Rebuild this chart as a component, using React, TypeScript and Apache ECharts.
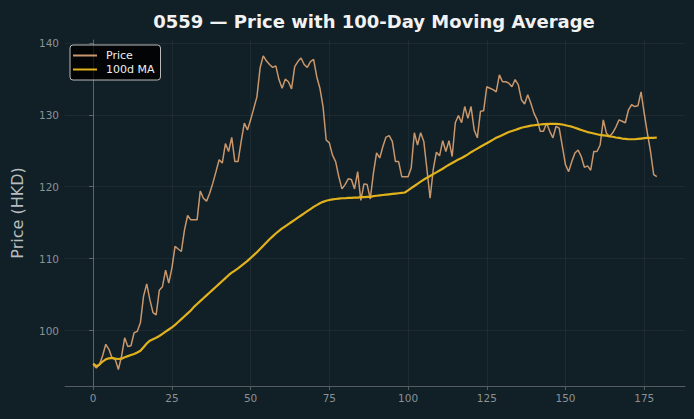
import React, { useEffect, useRef } from "react";
import * as echarts from "echarts";

// Daily closing price of 0559 (HKD), trading days 0..179
const price: number[] = [
  95.3, 94.8, 95.3, 96.5, 98.1, 97.4, 96.2, 96.0, 94.6, 96.4,
  99.0, 97.8, 97.9, 99.7, 99.9, 101.1, 104.8, 106.5, 104.3, 102.5,
  102.2, 105.6, 106.1, 108.4, 106.6, 108.7, 111.7, 111.35, 111.0, 114.0,
  116.0, 115.4, 115.4, 115.4, 119.4, 118.4, 118.0, 119.1, 120.5, 122.1,
  123.75, 123.3, 126.0, 124.9, 126.85, 123.5, 123.5, 126.3, 128.85, 127.9,
  129.3, 130.9, 132.5, 136.5, 138.2, 137.5, 137.0, 136.6, 136.8, 134.9,
  133.7, 134.95, 134.6, 133.6, 136.7, 137.4, 137.9, 137.0, 136.6, 137.4,
  137.7, 135.3, 133.7, 131.15, 126.5, 126.1, 124.4, 123.5, 121.4, 119.7,
  120.3, 121.1, 121.0, 119.7, 122.1, 118.1, 120.4, 120.3, 118.3, 121.9,
  124.7, 124.0, 125.6, 126.9, 127.1, 126.3, 123.5, 123.5, 121.4, 121.4,
  121.4, 122.6, 127.5, 125.8, 127.5, 126.3, 122.4, 118.4, 122.4, 124.8,
  124.3, 126.4, 124.9, 126.4, 124.2, 128.9, 129.9, 128.9, 131.15, 129.5,
  131.15, 127.9, 126.8, 130.5, 130.55, 133.9, 133.7, 133.5, 133.2, 135.55,
  134.6, 134.6, 134.4, 133.9, 134.9, 134.2, 132.1, 131.5, 132.8, 131.6,
  130.2, 129.3, 127.7, 127.7, 128.85, 127.7, 126.8, 128.4, 128.15, 125.6,
  123.05, 122.1, 123.5, 124.7, 125.1, 124.2, 122.7, 122.9, 122.3, 124.9,
  124.9, 125.8, 129.3, 127.45, 127.0, 127.5, 128.3, 129.3, 129.1, 128.9,
  130.7, 131.4, 131.15, 131.25, 133.2, 130.2, 127.45, 124.9, 121.7, 121.4,
];

// 100-day moving average of the close
const ma100: number[] = [
  95.4, 95.05, 95.3, 95.7, 96.0, 96.15, 96.2, 96.1, 96.05, 96.1,
  96.3, 96.45, 96.6, 96.75, 96.95, 97.2, 97.7, 98.2, 98.6, 98.8,
  99.0, 99.25, 99.55, 99.85, 100.15, 100.45, 100.8, 101.2, 101.6, 102.0,
  102.4, 102.8, 103.3, 103.7, 104.1, 104.5, 104.9, 105.3, 105.7, 106.1,
  106.5, 106.9, 107.3, 107.7, 108.05, 108.35, 108.65, 109.0, 109.35, 109.7,
  110.1, 110.5, 110.9, 111.35, 111.8, 112.25, 112.7, 113.1, 113.5, 113.85,
  114.2, 114.5, 114.8, 115.1, 115.4, 115.7, 116.0, 116.3, 116.6, 116.9,
  117.2, 117.45, 117.7, 117.9, 118.05, 118.15, 118.25, 118.3, 118.35, 118.4,
  118.4, 118.45, 118.45, 118.5, 118.5, 118.55, 118.55, 118.6, 118.6, 118.7,
  118.75, 118.8, 118.85, 118.9, 118.95, 119.0, 119.05, 119.1, 119.15, 119.2,
  119.5, 119.8, 120.1, 120.4, 120.7, 121.0, 121.25, 121.5, 121.75, 122.0,
  122.25, 122.5, 122.8, 123.05, 123.3, 123.55, 123.8, 124.0, 124.25, 124.5,
  124.8, 125.05, 125.3, 125.55, 125.8, 126.05, 126.3, 126.55, 126.8, 127.0,
  127.2, 127.4, 127.6, 127.75, 127.9, 128.05, 128.2, 128.3, 128.4, 128.5,
  128.55, 128.6, 128.65, 128.7, 128.7, 128.75, 128.75, 128.75, 128.7, 128.65,
  128.55, 128.45, 128.35, 128.2, 128.05, 127.9, 127.75, 127.6, 127.5, 127.4,
  127.3, 127.2, 127.15, 127.1, 127.0, 126.95, 126.85, 126.8, 126.7, 126.65,
  126.6, 126.6, 126.6, 126.65, 126.7, 126.75, 126.8, 126.8, 126.8, 126.85,
];

const xTicks: number[] = [0, 25, 50, 75, 100, 125, 150, 175];
const yTicks: number[] = [100, 110, 120, 130, 140];

const BG = "#111f26";
const FONT = "DejaVu Sans, sans-serif";
const PRICE_COLOR = "#c9976b";
const MA_COLOR = "#e2b21c";

export default function App() {
  const ref = useRef<HTMLDivElement>(null);

  useEffect(() => {
    if (!ref.current) return;
    const chart = echarts.init(ref.current, undefined, { renderer: "svg" });

    const priceData = price.map((v, i) => [i, v]);
    const maData = ma100.map((v, i) => [i, v]);
    const gridColor = "rgba(255,255,255,0.05)";

    chart.setOption({
      animation: false,
      backgroundColor: BG,
      textStyle: { fontFamily: FONT },
      title: {
        text: "0559 — Price with 100-Day Moving Average",
        left: 369,
        textAlign: "center",
        top: 7,
        textStyle: { color: "#f2f2f2", fontSize: 18, fontWeight: "bold", fontFamily: FONT },
      },
      legend: {
        left: 70,
        top: 45,
        orient: "vertical",
        backgroundColor: "rgba(0,0,0,0.85)",
        borderColor: "#bbbbbb",
        borderWidth: 1,
        borderRadius: 3,
        padding: [5, 6, 5, 3],
        itemGap: 3,
        itemWidth: 24,
        itemHeight: 2,
        icon: "rect",
        textStyle: { color: "#eeeeee", fontSize: 11, fontFamily: FONT, padding: [0, 0, 0, 4] },
        data: [
          { name: "Price", itemStyle: { color: PRICE_COLOR } },
          { name: "100d MA", itemStyle: { color: MA_COLOR } },
        ],
      },
      grid: { left: 65, right: 9, top: 40, bottom: 33 },
      xAxis: {
        type: "value",
        min: -8.95,
        max: 187.95,
        axisLine: { show: true, lineStyle: { color: "#555d60" } },
        axisTick: { show: true, customValues: xTicks, length: 4, lineStyle: { color: "#555d60" } },
        axisLabel: { customValues: xTicks, color: "#8a9296", fontSize: 10.5, margin: 6, fontFamily: FONT },
        splitLine: { show: false },
      },
      yAxis: {
        type: "value",
        min: 92.3,
        max: 140.4,
        name: "Price (HKD)",
        nameLocation: "middle",
        nameGap: 40,
        nameTextStyle: { color: "#b8bdbf", fontSize: 16, fontFamily: FONT },
        axisLine: { show: true, lineStyle: { color: "#555d60" } },
        axisTick: { show: true, customValues: yTicks, length: 4, lineStyle: { color: "#555d60" } },
        axisLabel: { customValues: yTicks, color: "#8a9296", fontSize: 10.5, margin: 6, fontFamily: FONT },
        splitLine: { show: false },
      },
      series: [
        {
          name: "Price",
          type: "line",
          data: priceData,
          symbol: "none",
          lineStyle: { color: PRICE_COLOR, width: 1.5 },
          itemStyle: { color: PRICE_COLOR },
          z: 3,
          markLine: {
            silent: true,
            symbol: "none",
            label: { show: false },
            lineStyle: { color: gridColor, width: 1, type: "solid" },
            data: [
              ...xTicks.map((v) => ({ xAxis: v })),
              ...yTicks.map((v) => ({ yAxis: v })),
            ],
          },
        },
        {
          name: "100d MA",
          type: "line",
          data: maData,
          symbol: "none",
          lineStyle: { color: MA_COLOR, width: 2.2 },
          itemStyle: { color: MA_COLOR },
          z: 4,
        },
      ],
    });

    return () => chart.dispose();
  }, []);

  return (
    <div
      ref={ref}
      style={{ width: 694, height: 419, position: "absolute", left: 0, top: 0, background: BG }}
    />
  );
}
